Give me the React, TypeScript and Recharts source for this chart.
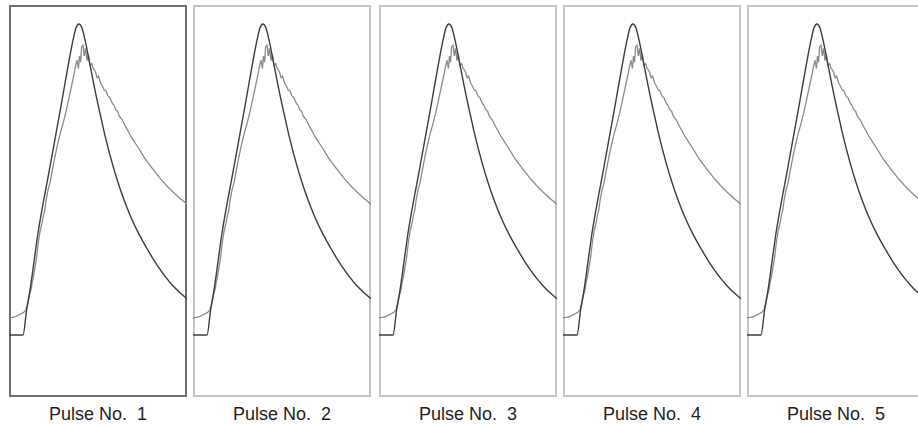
import { LineChart, Line, XAxis, YAxis } from "recharts";

// time axis in % of the window, amplitude normalised to the reference peak
const pulseLabels = ["Pulse No.  1", "Pulse No.  2", "Pulse No.  3", "Pulse No.  4", "Pulse No.  5"];

const refTime = [
  0, 7.9, 9.9, 11.8, 16.3, 23.0, 29.8, 33.1, 36.0, 37.6, 39.3, 41.0, 42.7, 45.5, 48.3, 51.7, 54.5, 57.9, 61.2,
  64.6, 68.5, 73.6, 78.1, 83.1, 87.6, 92.1, 96.1, 100,
];
const refAmp = [
  0, 0, 0.081, 0.145, 0.329, 0.542, 0.758, 0.865, 0.952, 0.99, 1.003, 0.99, 0.952, 0.871, 0.79, 0.7, 0.63,
  0.556, 0.493, 0.436, 0.38, 0.319, 0.273, 0.226, 0.19, 0.159, 0.136, 0.117,
];

const measTime = [
  0, 2, 4, 6, 8, 9.5, 10.5, 11.5, 12.5, 13, 13.8, 14.5, 15.5, 16.5, 17.5, 18.5, 19.5, 20, 21, 22, 23, 24.7,
  26, 27.5, 29, 30.5, 32, 33.5, 35, 36.5, 37.5, 38.2, 39, 39.6, 40.2, 40.8, 41.6, 42.3, 43, 43.8, 44.6, 45.5,
  46.5, 47.2, 48.5, 49.5, 50.3, 51.5, 52.5, 53.5, 54.5, 55.5, 56.7, 58, 59, 60, 61, 62, 63.5, 65.2, 66.5, 68,
  69.5, 72.2, 76.4, 80.6, 84.8, 89.0, 93.3, 96.6, 100,
];
const measAmp = [
  0.055, 0.057, 0.06, 0.066, 0.072, 0.08, 0.1, 0.128, 0.15, 0.17, 0.19, 0.215, 0.25, 0.3, 0.335, 0.36, 0.39, 0.4,
  0.44, 0.47, 0.49, 0.542, 0.58, 0.62, 0.655, 0.685, 0.72, 0.76, 0.8, 0.84, 0.87, 0.887, 0.86, 0.9, 0.88, 0.93,
  0.935, 0.9, 0.925, 0.885, 0.905, 0.87, 0.875, 0.861, 0.85, 0.83, 0.835, 0.812, 0.803, 0.79, 0.787, 0.772,
  0.765, 0.748, 0.741, 0.726, 0.722, 0.706, 0.695, 0.676, 0.662, 0.646, 0.632, 0.608, 0.569, 0.537, 0.506,
  0.479, 0.455, 0.438, 0.422,
];

const refData = refTime.map((t, i) => ({ t, a: refAmp[i] }));
const measData = measTime.map((t, i) => ({ t, a: measAmp[i] }));

const panelLeft = [9, 193, 379, 563, 747];
const W = 178;
const H = 392;

function Panel({ label, left, active }: { label: string; left: number; active: boolean }) {
  return (
    <>
      <div
        style={{
          position: "absolute",
          left,
          top: 5,
          width: W,
          height: H,
          boxShadow: `inset 0 0 0 2px ${active ? "#6e6e6e" : "#c4c4c4"}`,
        }}
      >
        <LineChart width={W} height={H} margin={{ top: 0, right: 0, bottom: 0, left: 0 }}>
          <XAxis dataKey="t" type="number" domain={[0, 100]} hide />
          <YAxis type="number" domain={[-0.2, 1.0645]} hide />
          <Line
            data={measData}
            dataKey="a"
            type="linear"
            stroke="#8a8a8a"
            strokeWidth={1.3}
            dot={false}
            isAnimationActive={false}
          />
          <Line
            data={refData}
            dataKey="a"
            type="monotone"
            stroke="#3c3c3c"
            strokeWidth={1.4}
            dot={false}
            isAnimationActive={false}
          />
        </LineChart>
      </div>
      <div
        style={{
          position: "absolute",
          left,
          top: 404,
          width: W,
          height: 20,
          lineHeight: "20px",
          textAlign: "center",
          whiteSpace: "pre",
          fontFamily: "'Liberation Sans', Arial, sans-serif",
          fontSize: 18,
          color: "#1e1e1e",
        }}
      >
        {label}
      </div>
    </>
  );
}

export default function App() {
  return (
    <div style={{ position: "absolute", left: 0, top: 0, width: 918, height: 426, overflow: "hidden", background: "#fff" }}>
      {pulseLabels.map((label, i) => (
        <Panel key={label} label={label} left={panelLeft[i]} active={i === 0} />
      ))}
    </div>
  );
}
